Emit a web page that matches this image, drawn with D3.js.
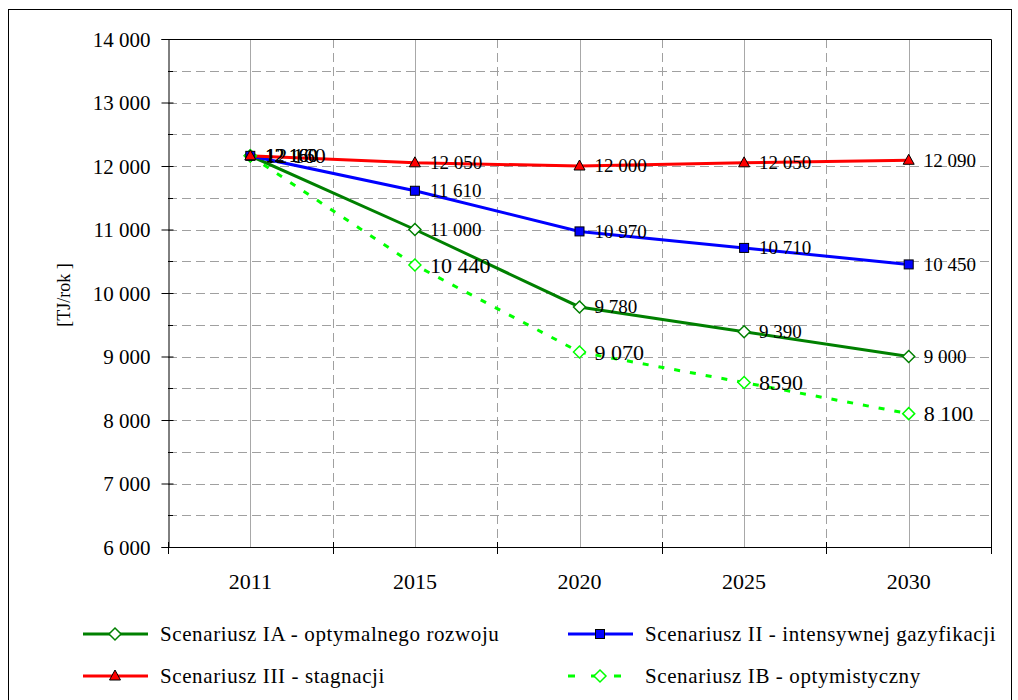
<!DOCTYPE html>
<html>
<head>
<meta charset="utf-8">
<script src="https://cdn.jsdelivr.net/npm/d3@7"></script>
<style>
  body { margin: 0; background: #fff; }
  svg text { font-family: "Liberation Serif", "Tinos", "Times New Roman", "DejaVu Serif", serif; fill: #000; }
</style>
</head>
<body>
<div id="chart"></div>
<script>
const years = ['2011', '2015', '2020', '2025', '2030'];
const yTicks = [6000, 7000, 8000, 9000, 10000, 11000, 12000, 13000, 14000];

const seriesIA = [12160, 11000, 9780, 9390, 9000];
const seriesII = [12160, 11610, 10970, 10710, 10450];
const seriesIII = [12160, 12050, 12000, 12050, 12090];
const seriesIB = [12160, 10440, 9070, 8590, 8100];

const labelsIA = ['12 160', '11 000', '9 780', '9 390', '9 000'];
const labelsII = ['12 160', '11 610', '10 970', '10 710', '10 450'];
const labelsIII = ['12 160', '12 050', '12 000', '12 050', '12 090'];
const labelsIB = ['12 160', '10 440', '9 070', '8590', '8 100'];

const FONT = '"Liberation Serif", "Tinos", "Times New Roman", "DejaVu Serif", serif';

const series = [
  { name: 'Scenariusz IA - optymalnego rozwoju', values: seriesIA, labels: labelsIA, color: '#008000', marker: 'diamond', fill: '#fff', stroke: '#008000', dash: null, fs: 19 },
  { name: 'Scenariusz II - intensywnej gazyfikacji', values: seriesII, labels: labelsII, color: '#0000ff', marker: 'square', fill: '#0000ff', stroke: '#000', dash: null, fs: 19 },
  { name: 'Scenariusz III - stagnacji', values: seriesIII, labels: labelsIII, color: '#ff0000', marker: 'triangle', fill: '#ff0000', stroke: '#000', dash: null, fs: 19 },
  { name: 'Scenariusz IB - optymistyczny', values: seriesIB, labels: labelsIB, color: '#00ff00', marker: 'diamond', fill: '#fff', stroke: '#00ff00', dash: '6,10', fs: 22 }
];

const width = 1018, height = 700;
const plotLeft = 168, plotRight = 991, plotTop = 39, plotBottom = 547;

const svg = d3.select('#chart').append('svg')
  .attr('width', width)
  .attr('height', height)
  .attr('font-family', FONT);

// outer frame
svg.append('rect')
  .attr('x', 8.5).attr('y', 9.5)
  .attr('width', 1003).attr('height', 700)
  .attr('fill', '#fff').attr('stroke', '#000').attr('stroke-width', 1);

const x = d3.scaleBand().domain(years).range([plotLeft, plotRight]);
const cx = d => x(d) + x.bandwidth() / 2;
const y = d3.scaleLinear().domain([6000, 14000]).range([plotBottom, plotTop]);

const grid = svg.append('g');
// minor horizontal dashed lines
d3.range(6500, 14000, 500).forEach(v => {
  grid.append('line')
    .attr('x1', plotLeft).attr('x2', plotRight)
    .attr('y1', Math.round(y(v)) + 0.5).attr('y2', Math.round(y(v)) + 0.5)
    .attr('stroke', '#a0a0a0').attr('stroke-dasharray', '9,5');
});
// vertical dashed lines between categories
years.slice(1).forEach(yr => {
  grid.append('line')
    .attr('x1', Math.round(x(yr)) + 0.5).attr('x2', Math.round(x(yr)) + 0.5)
    .attr('y1', plotTop).attr('y2', plotBottom)
    .attr('stroke', '#a0a0a0').attr('stroke-dasharray', '9,5');
});
// vertical solid lines at categories
years.forEach(yr => {
  grid.append('line')
    .attr('x1', Math.round(cx(yr)) + 0.5).attr('x2', Math.round(cx(yr)) + 0.5)
    .attr('y1', plotTop).attr('y2', plotBottom)
    .attr('stroke', '#a8a8a8');
});

// plot frame (top, right)
svg.append('path')
  .attr('d', `M${plotLeft},${plotTop + 0.5}H${plotRight + 0.5}V${plotBottom}`)
  .attr('fill', 'none').attr('stroke', '#000');

// y axis
const yAxis = svg.append('g').attr('transform', `translate(${plotLeft + 0.5},0)`)
  .call(d3.axisLeft(y).tickValues(yTicks).tickSize(7).tickPadding(11)
    .tickFormat(d => d3.format(',')(d).replace(',', ' ')));
yAxis.attr('font-family', FONT).attr('font-size', 21);
yAxis.select('.domain').attr('stroke', '#000');
yAxis.selectAll('.tick line').attr('x2', -7).attr('x1', 5);
yAxis.selectAll('.tick text').attr('dy', '0.34em');
// minor inside ticks
d3.range(6500, 14000, 1000).forEach(v => {
  svg.append('line')
    .attr('x1', plotLeft).attr('x2', plotLeft + 5)
    .attr('y1', Math.round(y(v)) + 0.5).attr('y2', Math.round(y(v)) + 0.5)
    .attr('stroke', '#000');
});

// x axis
svg.append('line')
  .attr('x1', plotLeft).attr('x2', plotRight + 1)
  .attr('y1', plotBottom + 0.5).attr('y2', plotBottom + 0.5)
  .attr('stroke', '#000');
years.concat(['end']).forEach(yr => {
  const xx = yr === 'end' ? plotRight : x(yr);
  svg.append('line')
    .attr('x1', Math.round(xx) + 0.5).attr('x2', Math.round(xx) + 0.5)
    .attr('y1', plotBottom - 5).attr('y2', plotBottom + 7)
    .attr('stroke', '#000');
});
svg.append('g').selectAll('text')
  .data(years)
  .join('text')
  .attr('x', d => cx(d))
  .attr('y', 589)
  .attr('text-anchor', 'middle')
  .attr('font-size', 22)
  .text(d => d);

// y label
svg.append('text')
  .attr('transform', 'translate(70,295) rotate(-90)')
  .attr('text-anchor', 'middle')
  .attr('font-size', 18)
  .text('[TJ/rok ]');

function drawMarker(g, type, px, py, fill, stroke, sw) {
  if (type === 'diamond') {
    g.append('path')
      .attr('d', `M${px},${py - 6}L${px + 6},${py}L${px},${py + 6}L${px - 6},${py}Z`)
      .attr('fill', fill).attr('stroke', stroke).attr('stroke-width', sw || 1.5);
  } else if (type === 'square') {
    g.append('rect')
      .attr('x', px - 4.5).attr('y', py - 4.5).attr('width', 9).attr('height', 9)
      .attr('fill', fill).attr('stroke', stroke).attr('stroke-width', 1);
  } else {
    g.append('path')
      .attr('d', `M${px},${py - 6}L${px + 5.5},${py + 4}L${px - 5.5},${py + 4}Z`)
      .attr('fill', fill).attr('stroke', stroke).attr('stroke-width', 1);
  }
}

const line = d3.line().x(d => cx(d.year)).y(d => y(d.value));

// draw in order so red/blue overlap correctly
const drawOrder = [series[0], series[3], series[1], series[2]];
drawOrder.forEach(s => {
  const pts = years.map((yr, i) => ({ year: yr, value: s.values[i] }));
  svg.append('path')
    .datum(pts)
    .attr('d', line)
    .attr('fill', 'none')
    .attr('stroke', s.color)
    .attr('stroke-width', 3)
    .attr('stroke-dasharray', s.dash);
});
drawOrder.forEach(s => {
  const g = svg.append('g');
  years.forEach((yr, i) => {
    drawMarker(g, s.marker, cx(yr), y(s.values[i]), s.fill, s.stroke);
  });
});
series.forEach(s => {
  svg.append('g').selectAll('text')
    .data(years)
    .join('text')
    .attr('x', d => cx(d) + 15)
    .attr('y', (d, i) => y(s.values[i]))
    .attr('dy', '0.34em')
    .attr('font-size', s.fs)
    .text((d, i) => s.labels[i]);
});

// legend
const legendPos = [
  { s: series[0], lx: 83, ly: 634 },
  { s: series[1], lx: 568, ly: 634 },
  { s: series[2], lx: 83, ly: 676 },
  { s: series[3], lx: 568, ly: 676 }
];
legendPos.forEach(p => {
  const g = svg.append('g');
  g.append('line')
    .attr('x1', p.lx).attr('x2', p.lx + 65)
    .attr('y1', p.ly).attr('y2', p.ly)
    .attr('stroke', p.s.color).attr('stroke-width', 3)
    .attr('stroke-dasharray', p.s.dash ? '7,16' : null);
  drawMarker(g, p.s.marker, p.lx + 32, p.ly, p.s.fill, p.s.stroke);
  g.append('text')
    .attr('x', p.lx + 77)
    .attr('y', p.ly)
    .attr('dy', '0.34em')
    .attr('font-size', 21)
    .attr('letter-spacing', 0.6)
    .text(p.s.name);
});
</script>
</body>
</html>
